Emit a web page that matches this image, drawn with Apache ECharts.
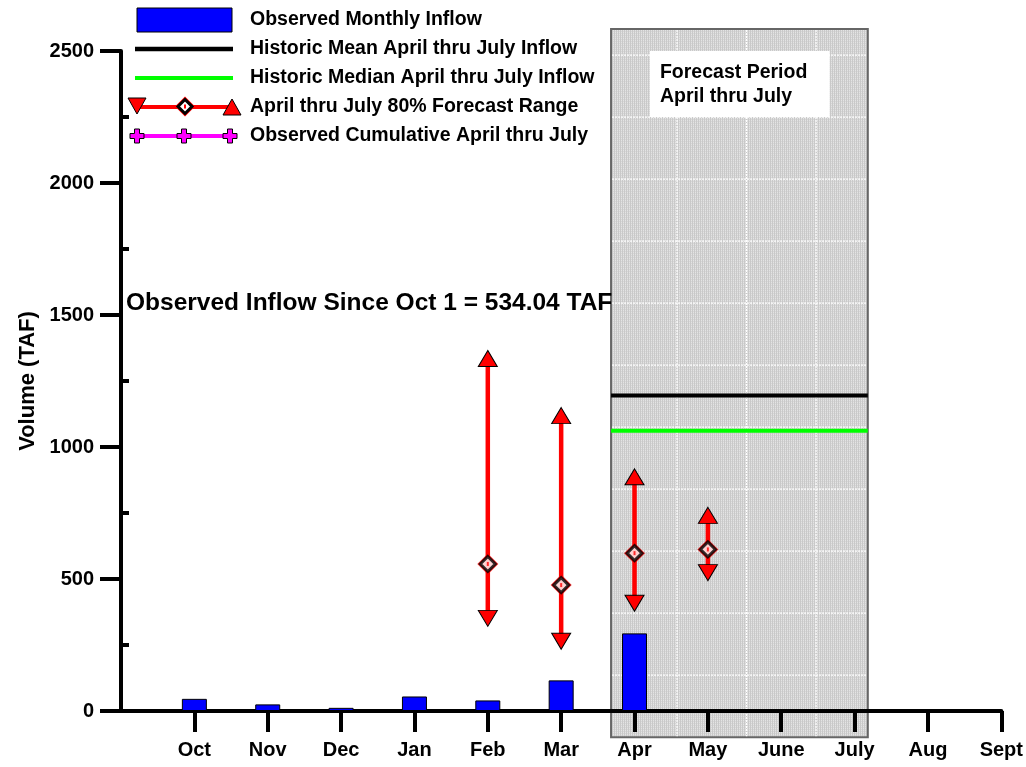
<!DOCTYPE html>
<html>
<head>
<meta charset="utf-8">
<script src="https://cdn.jsdelivr.net/npm/echarts@6/dist/echarts.min.js"></script>
<style>html,body{margin:0;padding:0;background:#fff}#c{width:1026px;height:767px}</style>
</head>
<body>
<div id="c"></div>
<script>
// ---- data ----
var monthLabels = ['', 'Oct', 'Nov', 'Dec', 'Jan', 'Feb', 'Mar', 'Apr', 'May', 'June', 'July', 'Aug', 'Sept'];
var monthPos = [1, 2, 3, 4, 5, 6, 7, 8, 9, 10, 11, 12];
var inflowMonths = [1, 2, 3, 4, 5, 6, 7];
var inflowValues = [46, 25, 12, 55, 40, 116, 294];
var forecastMonths = [5, 6, 7, 8];
var forecastHigh = [1335, 1119, 887, 741];
var forecastMedian = [557, 477, 598, 612];
var forecastLow = [351, 264, 408, 524];
var historicMean = 1195;
var historicMedian = 1062;
var forecastPeriod = [6.68, 10.18];      // x extent of shaded forecast window
var forecastPeriodY = [-99, 2583];       // y extent of shaded forecast window
var yTicks = [0, 500, 1000, 1500, 2000, 2500];
var yMinorTicks = [250, 750, 1250, 1750, 2250];
var titleText = 'Observed Inflow Since Oct 1 = 534.04 TAF';

var FONT = '"Liberation Sans", Arial, sans-serif';
var chart = echarts.init(document.getElementById('c'));

// stipple pattern (fine vertical stripes)
var pc = document.createElement('canvas');
pc.width = 2; pc.height = 2;
var pctx = pc.getContext('2d');
pctx.fillStyle = '#e4e4e4'; pctx.fillRect(0, 0, 2, 2);
pctx.fillStyle = '#c9c9c9'; pctx.fillRect(0, 0, 1, 2);
pctx.fillStyle = '#d6d6d6'; pctx.fillRect(1, 1, 1, 1);

var series = [];

// forecast window shading
series.push({
  type: 'custom', z: -1, clip: false, silent: true,
  data: [[forecastPeriod[0], forecastPeriod[1], forecastPeriodY[0], forecastPeriodY[1]]],
  renderItem: function (params, api) {
    var p1 = api.coord([api.value(0), api.value(3)]);
    var p2 = api.coord([api.value(1), api.value(2)]);
    var x = p1[0], y = p1[1], w = p2[0] - p1[0], h = p2[1] - p1[1];
    var children = [{
      type: 'rect', shape: { x: x, y: y, width: w, height: h },
      style: { fill: { image: pc, repeat: 'repeat' }, stroke: '#666', lineWidth: 2 }
    }];
    for (var yy = y + 26; yy < y + h - 2; yy += 62) {
      children.push({ type: 'line', shape: { x1: x + 1, y1: yy, x2: x + w - 1, y2: yy },
        style: { stroke: '#fff', lineWidth: 1.2, lineDash: [2, 1] } });
    }
    for (var k = 0; k < 3; k++) {
      var xx = x + 66 + 69.5 * k;
      children.push({ type: 'line', shape: { x1: xx, y1: y + 1, x2: xx, y2: y + h - 1 },
        style: { stroke: '#fff', lineWidth: 1.2, lineDash: [2, 1] } });
    }
    var b1 = api.coord([7.21, 2500]);
    var b2 = api.coord([9.66, 2250]);
    children.push({ type: 'rect', shape: { x: b1[0], y: b1[1], width: b2[0] - b1[0], height: b2[1] - b1[1] },
      style: { fill: '#fff' } });
    children.push({ type: 'text', style: { x: b1[0] + 10, y: b1[1] + 22, text: 'Forecast Period',
      font: 'bold 19.5px ' + FONT, fill: '#000', verticalAlign: 'middle' } });
    children.push({ type: 'text', style: { x: b1[0] + 10, y: b1[1] + 46, text: 'April thru July',
      font: 'bold 19.5px ' + FONT, fill: '#000', verticalAlign: 'middle' } });
    return { type: 'group', children: children };
  }
});

// observed monthly inflow bars
series.push({
  name: 'Observed Monthly Inflow', type: 'bar', barWidth: 25,
  data: inflowMonths.map(function (m, i) { return [m, inflowValues[i]]; }),
  itemStyle: { color: '#0000ff', borderColor: '#000', borderWidth: 1 }
});

// historic mean / median
series.push({
  name: 'Historic Mean April thru July Inflow', type: 'line', symbol: 'none', clip: false,
  data: [[forecastPeriod[0], historicMean], [forecastPeriod[1], historicMean]],
  lineStyle: { color: '#000', width: 4 }
});
series.push({
  name: 'Historic Median April thru July Inflow', type: 'line', symbol: 'none', clip: false,
  data: [[forecastPeriod[0], historicMedian], [forecastPeriod[1], historicMedian]],
  lineStyle: { color: '#00ff00', width: 4 }
});

// forecast ranges
forecastMonths.forEach(function (m, i) {
  series.push({
    name: 'April thru July 80% Forecast Range', type: 'line',
    lineStyle: { color: '#ff0000', width: 4.5 },
    itemStyle: { color: '#ff0000', borderColor: '#000', borderWidth: 1 },
    data: [
      { value: [m, forecastLow[i]], symbol: 'triangle', symbolSize: [19, 16], symbolRotate: 180 },
      { value: [m, forecastHigh[i]], symbol: 'triangle', symbolSize: [19, 16] }
    ],
    z: 3
  });
  series.push({
    type: 'scatter', z: 4,
    data: [[m, forecastMedian[i]]],
    symbol: 'diamond', symbolSize: [21, 21],
    itemStyle: { color: '#ff0000' }
  });
  series.push({
    type: 'scatter', z: 5,
    data: [[m, forecastMedian[i]]],
    symbol: 'diamond', symbolSize: [15, 15],
    itemStyle: { color: '#fff', borderColor: '#000', borderWidth: 3 }
  });
  series.push({
    type: 'scatter', z: 6, data: [[m, forecastMedian[i]]],
    symbol: 'rect', symbolSize: [2, 4], itemStyle: { color: '#ff0000' }
  });
});

// legend drawn as graphic
function tri(cx, cy, up) {
  var h = 8;
  return up ? [[cx - 9, cy + h], [cx + 9, cy + h], [cx, cy - h]] : [[cx - 9, cy - h], [cx + 9, cy - h], [cx, cy + h]];
}
function plus(cx, cy) {
  var a = 2.5, b = 7;
  return [[cx - a, cy - b], [cx + a, cy - b], [cx + a, cy - a], [cx + b, cy - a], [cx + b, cy + a], [cx + a, cy + a],
    [cx + a, cy + b], [cx - a, cy + b], [cx - a, cy + a], [cx - b, cy + a], [cx - b, cy - a], [cx - a, cy - a]];
}
var legendNames = ['Observed Monthly Inflow', 'Historic Mean April thru July Inflow', 'Historic Median April thru July Inflow',
  'April thru July 80% Forecast Range', 'Observed Cumulative April thru July'];
var legendY = [20, 49, 78, 107, 136];
var g = [];
g.push({ type: 'rect', shape: { x: 137, y: 8, width: 95, height: 24 }, style: { fill: '#0000ff', stroke: '#000', lineWidth: 1 } });
g.push({ type: 'line', shape: { x1: 135, y1: 49, x2: 233, y2: 49 }, style: { stroke: '#000', lineWidth: 4.5 } });
g.push({ type: 'line', shape: { x1: 135, y1: 78, x2: 233, y2: 78 }, style: { stroke: '#00ff00', lineWidth: 4 } });
g.push({ type: 'line', shape: { x1: 137, y1: 107, x2: 232, y2: 107 }, style: { stroke: '#ff0000', lineWidth: 4 } });
g.push({ type: 'polygon', shape: { points: tri(137, 106, false) }, style: { fill: '#ff0000', stroke: '#000', lineWidth: 1 } });
g.push({ type: 'polygon', shape: { points: tri(232, 107, true) }, style: { fill: '#ff0000', stroke: '#000', lineWidth: 1 } });
g.push({ type: 'polygon', shape: { points: [[185, 96.5], [195, 106.5], [185, 116.5], [175, 106.5]] }, style: { fill: '#ff0000' } });
g.push({ type: 'polygon', shape: { points: [[185, 99.5], [192, 106.5], [185, 113.5], [178, 106.5]] }, style: { fill: '#fff', stroke: '#000', lineWidth: 3 } });
g.push({ type: 'rect', shape: { x: 184, y: 104.5, width: 2, height: 4 }, style: { fill: '#f00' } });
g.push({ type: 'line', shape: { x1: 137, y1: 136, x2: 230, y2: 136 }, style: { stroke: '#ff00ff', lineWidth: 4 } });
[137, 184, 230].forEach(function (cx) {
  g.push({ type: 'polygon', shape: { points: plus(cx, 136) }, style: { fill: '#ff00ff', stroke: '#000', lineWidth: 1 } });
});
legendNames.forEach(function (n, i) {
  g.push({ type: 'text', style: { x: 250, y: legendY[i], text: n, font: 'bold 19.5px ' + FONT, fill: '#000', verticalAlign: 'middle' } });
});

chart.setOption({
  animation: false,
  backgroundColor: '#fff',
  title: { text: titleText, left: 121, top: 286, textStyle: { fontFamily: FONT, fontWeight: 'bold', fontSize: 24.5, color: '#000' } },
  grid: { left: 121, right: 22, top: 51, bottom: 56 },
  xAxis: {
    type: 'value', min: 0, max: 12, interval: 1,
    axisLine: { lineStyle: { color: '#000', width: 4 } },
    axisTick: { length: 21, lineStyle: { color: '#000', width: 4 }, customValues: monthPos },
    axisLabel: { customValues: monthPos, margin: 29, color: '#000', fontFamily: FONT, fontWeight: 'bold', fontSize: 20,
      formatter: function (v) { return monthLabels[Math.round(v)] || ''; } },
    splitLine: { show: false }
  },
  yAxis: [{
    type: 'value', min: 0, max: 2500, interval: 500,
    name: 'Volume (TAF)', nameLocation: 'middle', nameGap: 80,
    nameTextStyle: { fontFamily: FONT, fontWeight: 'bold', fontSize: 22, color: '#000' },
    axisLine: { show: true, lineStyle: { color: '#000', width: 4 } },
    axisTick: { show: true, length: 21, lineStyle: { color: '#000', width: 4 }, customValues: yTicks },
    axisLabel: { customValues: yTicks, margin: 27, color: '#000', fontFamily: FONT, fontWeight: 'bold', fontSize: 20,
      formatter: function (v) { return String(v); } },
    splitLine: { show: false }
  }, {
    type: 'value', min: 0, max: 2500, position: 'left',
    axisLine: { show: false },
    axisTick: { show: true, inside: true, length: 8, lineStyle: { color: '#000', width: 4 }, customValues: yMinorTicks },
    axisLabel: { show: false }, splitLine: { show: false }
  }],
  graphic: g,
  series: series
});
</script>
</body>
</html>
